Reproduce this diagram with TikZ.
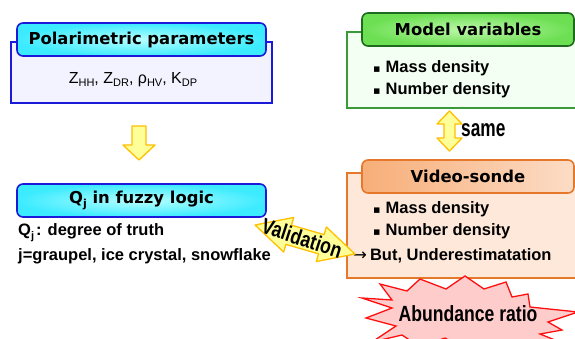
\documentclass[tikz,border=0pt]{standalone}
\usepackage{fontspec}
\setmainfont{Liberation Sans}
\newfontfamily\hdfont{DejaVu Sans}
\newfontfamily\symfont{DejaVu Sans}
\newfontfamily\narrowfont[FakeStretch=0.8]{Liberation Sans}
\newfontfamily\samefont[FakeStretch=0.72]{Liberation Sans}
\newcommand\zsub[1]{\raisebox{-0.35ex}{\fontsize{11}{11}\selectfont #1}}
\definecolor{cyanA}{HTML}{3CEBFF}
\definecolor{cyanB}{HTML}{B8FFFF}
\definecolor{bluedge}{HTML}{1A1AD8}
\definecolor{lav}{HTML}{F3F3FF}
\definecolor{grA}{HTML}{6CDF52}
\definecolor{grB}{HTML}{BDF8AA}
\definecolor{grdark}{HTML}{1E6A1E}
\definecolor{gredge}{HTML}{3A9A3A}
\definecolor{grbg}{HTML}{F2FFF2}
\definecolor{orA}{HTML}{F7AE78}
\definecolor{orB}{HTML}{FCDCC6}
\definecolor{oredge}{HTML}{E5782A}
\definecolor{orbg}{HTML}{FDE8DA}
\definecolor{yfill}{HTML}{FFFF99}
\definecolor{yedge}{HTML}{FFC000}
\definecolor{pinkfill}{HTML}{FFCCCC}
\definecolor{redge}{HTML}{FF1010}
\begin{document}
\begin{tikzpicture}[x=1pt,y=-1pt,
  hdr/.style={draw, rounded corners=6pt, line width=1.6pt, minimum height=33pt,
    inner sep=0pt, font=\hdfont\bfseries\fontsize{16.4}{18}\selectfont},
  panel/.style={draw, line width=1.3pt, inner sep=0pt},
  txt/.style={font=\bfseries\fontsize{16.5}{18}\selectfont, inner sep=0pt, anchor=west},
  yarrow/.style={fill=yfill, draw=yedge, line width=1.3pt, line join=round},
  bigtxt/.style={font=\narrowfont\bfseries\fontsize{22}{24}\selectfont, inner sep=0pt}]
\useasboundingbox (0,0) rectangle (575,338);
\clip (0,0) rectangle (575,338);
\fill[white] (0,0) rectangle (575,338);

% Polarimetric parameters
\node[panel, draw=bluedge, fill=lav, minimum width=261pt, minimum height=61pt] (polbox) at (141.5,72.5) {};
\node[hdr, draw=bluedge, inner color=cyanB, outer color=cyanA, minimum width=249pt] (polhdr) at (141.5,39.5) {Polarimetric parameters};
\node[inner sep=0pt, font=\fontsize{16}{18}\selectfont] (zline) at (133,80) {Z\zsub{HH}, Z\zsub{DR}, ρ\zsub{HV}, K\zsub{DP}};

% down arrow
\draw[yarrow] (132,126) -- (146,126) -- (146,145) -- (155,145) -- (139,160) -- (123,145) -- (132,145) -- cycle;

% Qj header
\node[hdr, draw=bluedge, inner color=cyanB, outer color=cyanA, minimum width=249pt] (qhdr) at (141.5,200.5) {Q\raisebox{-0.4ex}{\fontsize{11}{11}\selectfont j} in fuzzy logic};
\node[txt] (q1) at (18,232.5) {Q\raisebox{-0.4ex}{\fontsize{11}{11}\selectfont j}\hspace{2pt}: degree of truth};
\node[txt] (q2) at (18,256) {j=graupel, ice crystal, snowflake};

% Model variables
\node[panel, draw=gredge, fill=grbg, minimum width=233pt, minimum height=76pt] (modbox) at (463.5,70) {};
\node[hdr, draw=grdark, inner color=grB, outer color=grA, minimum width=212pt] (modhdr) at (468,29.5) {Model variables};
\node[txt] (m1) at (373,68) {{\symfont\mdseries\fontsize{11}{11}\selectfont ▪}\hspace{5pt}Mass density};
\node[txt] (m2) at (373,90) {{\symfont\mdseries\fontsize{11}{11}\selectfont ▪}\hspace{5pt}Number density};

% same arrow
\draw[yarrow] (449.5,111) -- (462,124) -- (455,124) -- (455,138) -- (462,138) -- (449.5,151) -- (437,138) -- (444,138) -- (444,124) -- (437,124) -- cycle;
\node[inner sep=0pt, anchor=west, font=\samefont\bfseries\fontsize{24}{26}\selectfont] (same) at (461,130) {same};

% Video-sonde
\node[panel, draw=oredge, fill=orbg, minimum width=233pt, minimum height=105pt] (vidbox) at (463.5,225.5) {};
\node[hdr, draw=oredge, left color=orA, right color=orB, minimum width=212pt] (vidhdr) at (468,176.5) {Video-sonde};
\node[txt] (v1) at (373,209) {{\symfont\mdseries\fontsize{11}{11}\selectfont ▪}\hspace{5pt}Mass density};
\node[txt] (v2) at (373,231) {{\symfont\mdseries\fontsize{11}{11}\selectfont ▪}\hspace{5pt}Number density};
\node[txt] (v3) at (353,256) {{\symfont\mdseries →}\hspace{3pt}But, Underestimatation};

% Validation arrow
\begin{scope}[shift={(305,239.5)}, rotate=-16.2]
\draw[yarrow] (-52,0) -- (-17,-18) -- (-17,-10) -- (17,-10) -- (17,-18) -- (52,0) -- (17,18) -- (17,10) -- (-17,10) -- (-17,18) -- cycle;
\end{scope}
\node[bigtxt, rotate=-18] (valid) at (302,238) {Validation};

% Abundance ratio starburst
\draw[fill=pinkfill, draw=redge, line width=1.3pt, line join=miter]
  (362,298) -- (392,300) -- (380,284) -- (407,291) -- (420,279) -- (446,289) -- (465,276)
  -- (484,289) -- (506,282) -- (512,297) -- (528,294) -- (530,307) -- (578,312)
  -- (548,322) -- (562,330) -- (540,334) -- (575,348) -- (520,340) -- (470,352)
  -- (445,338) -- (420,347) -- (402,335) -- (372,342) -- (396,326) -- (366,318)
  -- (392,308) -- cycle;
\node[bigtxt] (abund) at (468,314) {Abundance ratio};
\end{tikzpicture}
\end{document}
